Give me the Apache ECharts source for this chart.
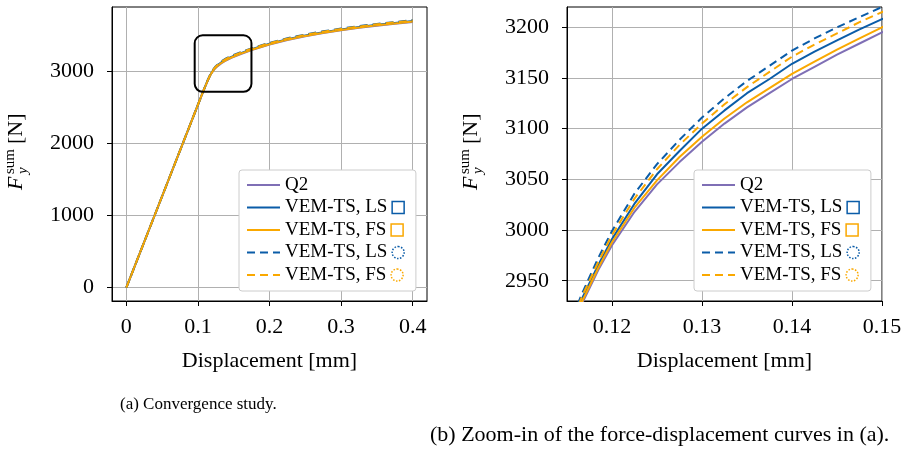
<!DOCTYPE html>
<html>
<head>
<meta charset="utf-8">
<script src="https://cdn.jsdelivr.net/npm/echarts@6/dist/echarts.min.js"></script>
<style>
  html, body { margin: 0; padding: 0; background: #fff; }
  #chart { width: 908px; height: 450px; }
</style>
</head>
<body>
<div id="chart"></div>
<script>
// displacement [mm], shared by every curve
var disp = [0, 0.05, 0.1, 0.105, 0.11, 0.1135, 0.1167, 0.1185, 0.12, 0.1225, 0.125, 0.1275, 0.13, 0.1325, 0.135, 0.1375, 0.14, 0.1425, 0.145, 0.1475, 0.15, 0.16, 0.175, 0.2, 0.225, 0.25, 0.275, 0.3, 0.325, 0.35, 0.375, 0.4]

// F_y^sum [N]
var q2 = [0, 1265, 2530, 2657, 2780, 2862, 2928, 2961, 2985, 3018, 3045, 3067, 3087, 3105, 3121, 3135, 3149, 3161, 3173, 3184, 3195, 3234, 3288, 3365, 3428, 3480, 3524, 3562, 3596, 3626, 3653, 3678]
var lsSquare = [0, 1265, 2530, 2657, 2781, 2865, 2933, 2966, 2991, 3026, 3055, 3078, 3100, 3118, 3135, 3149, 3164, 3176, 3187, 3198, 3208, 3247, 3301, 3377, 3440, 3492, 3536, 3574, 3608, 3638, 3665, 3690]
var fsSquare = [0, 1265, 2530, 2657, 2780, 2863, 2930, 2963, 2988, 3022, 3049, 3072, 3092, 3110, 3126, 3140, 3154, 3166, 3178, 3189, 3200, 3239, 3293, 3370, 3433, 3485, 3529, 3567, 3601, 3631, 3658, 3683]
var lsCircle = [0, 1265, 2530, 2657, 2783, 2868, 2938, 2973, 2999, 3036, 3065, 3089, 3111, 3130, 3147, 3162, 3177, 3189, 3200, 3210, 3220, 3259, 3313, 3389, 3452, 3504, 3548, 3586, 3620, 3650, 3677, 3702]
var fsCircle = [0, 1265, 2530, 2657, 2782, 2866, 2935, 2969, 2995, 3031, 3060, 3084, 3105, 3124, 3141, 3156, 3171, 3183, 3194, 3205, 3215, 3254, 3308, 3384, 3447, 3499, 3543, 3581, 3615, 3645, 3672, 3697]

var legendLabels = ['Q2', 'VEM-TS, LS', 'VEM-TS, FS', 'VEM-TS, LS', 'VEM-TS, FS']

// tick labels
var xTicksA = [0, 0.1, 0.2, 0.3, 0.4]
var yTicksA = [0, 1000, 2000, 3000]
var xTicksB = [0.12, 0.13, 0.14, 0.15]
var yTicksB = [2950, 3000, 3050, 3100, 3150, 3200]

// zoom window marked in (a): [x0, y0, x1, y1]
var zoomBox = [0.0955, 2711, 0.1748, 3494]

var captions = ['(a) Convergence study.', '(b) Zoom-in of the force-displacement curves in (a).']

var FONT = 'Liberation Serif'
var BLUE = '#0a5ca8'
var ORANGE = '#faa800'
var PURPLE = '#7f6fb5'

var keys = ['q2', 'ls', 'fs', 'lsd', 'fsd']
var curves = [q2, lsSquare, fsSquare, lsCircle, fsCircle]
var colors = [PURPLE, BLUE, ORANGE, BLUE, ORANGE]
var dashes = ['solid', 'solid', 'solid', [8, 5], [8, 5]]
var icons = ['', 'sqB', 'sqO', 'ciB', 'ciO']

function pairs (ys) {
  return disp.map(function (x, i) { return [x, ys[i]] })
}

var series = []
;[0, 1].forEach(function (g) {
  keys.forEach(function (k, i) {
    series.push({
      name: k,
      type: 'line',
      xAxisIndex: g,
      yAxisIndex: g,
      data: pairs(curves[i]),
      showSymbol: false,
      symbol: 'none',
      smooth: false,
      color: colors[i],
      lineStyle: { width: 2, color: colors[i], type: dashes[i] },
      animation: false
    })
  })
})

// rounded box in (a) showing the zoom-in region
series.push({
  type: 'custom',
  xAxisIndex: 0,
  yAxisIndex: 0,
  silent: true,
  z: 10,
  data: [zoomBox],
  renderItem: function (params, api) {
    var p0 = api.coord([api.value(0), api.value(3)])
    var p1 = api.coord([api.value(2), api.value(1)])
    return {
      type: 'rect',
      shape: { x: p0[0], y: p0[1], width: p1[0] - p0[0], height: p1[1] - p0[1], r: 8 },
      style: { fill: 'none', stroke: '#000', lineWidth: 2 }
    }
  }
})

function iconStyle (color, dotted) {
  return {
    width: 12,
    height: 12,
    borderColor: color,
    borderWidth: 1.5,
    borderType: dotted ? 'dotted' : 'solid',
    borderRadius: dotted ? 7 : 0
  }
}

function makeLegend (left) {
  return {
    left: left,
    top: 170,
    orient: 'vertical',
    data: keys,
    itemWidth: 33,
    itemHeight: 14,
    itemGap: 2.5,
    padding: [5, 11, 6, 7],
    backgroundColor: '#fff',
    borderColor: '#cccccc',
    borderWidth: 1,
    borderRadius: 3,
    selectedMode: false,
    itemStyle: { opacity: 0 },
    textStyle: {
      fontFamily: FONT,
      fontSize: 19,
      color: '#000',
      lineHeight: 20,
      rich: {
        t: { fontFamily: FONT, fontSize: 19, color: '#000', lineHeight: 20 },
        sqB: iconStyle(BLUE, false),
        sqO: iconStyle(ORANGE, false),
        ciB: iconStyle(BLUE, true),
        ciO: iconStyle(ORANGE, true)
      }
    },
    formatter: function (name) {
      var i = keys.indexOf(name)
      return '{t|' + legendLabels[i] + '}' + (icons[i] ? ' {' + icons[i] + '|}' : '')
    }
  }
}

function plain (v) { return String(v) }

function xAxis (g, min, max, ticks) {
  return {
    type: 'value',
    gridIndex: g,
    min: min,
    max: max,
    name: 'Displacement [mm]',
    nameLocation: 'middle',
    nameGap: 49,
    nameTextStyle: { fontFamily: FONT, fontSize: 22, color: '#000' },
    axisLine: { onZero: false, lineStyle: { color: '#000', width: 1 } },
    axisTick: { show: true, inside: false, length: 5, customValues: ticks, lineStyle: { color: '#000' } },
    axisLabel: { customValues: ticks, formatter: plain, margin: 15, fontFamily: FONT, fontSize: 22, color: '#000' },
    splitLine: { show: true, lineStyle: { color: '#b0b0b0', width: 1 } }
  }
}

function yAxis (g, min, max, ticks) {
  return {
    type: 'value',
    gridIndex: g,
    min: min,
    max: max,
    axisLine: { show: true, onZero: false, lineStyle: { color: '#000', width: 1 } },
    axisTick: { show: true, inside: false, length: 5, customValues: ticks, lineStyle: { color: '#000' } },
    axisLabel: { customValues: ticks, formatter: plain, margin: 18, fontFamily: FONT, fontSize: 22, color: '#000' },
    splitLine: { show: true, lineStyle: { color: '#b0b0b0', width: 1 } }
  }
}

// rotated y-axis title F_y^sum [N]
function yTitle (x, y) {
  return {
    type: 'group',
    x: x,
    y: y,
    rotation: Math.PI / 2,
    children: [
      { type: 'text', x: -38, y: -8, style: { text: 'F', font: 'italic 22px "' + FONT + '"', fill: '#000', verticalAlign: 'middle' } },
      { type: 'text', x: -22, y: -1, style: { text: 'y', font: 'italic 15px "' + FONT + '"', fill: '#000', verticalAlign: 'middle' } },
      { type: 'text', x: -22, y: -14, style: { text: 'sum', font: '15px "' + FONT + '"', fill: '#000', verticalAlign: 'middle' } },
      { type: 'text', x: 8, y: -8, style: { text: '[N]', font: '22px "' + FONT + '"', fill: '#000', verticalAlign: 'middle' } }
    ]
  }
}

var chart = echarts.init(document.getElementById('chart'), null, { renderer: 'canvas' })

chart.setOption({
  animation: false,
  backgroundColor: '#fff',
  grid: [
    { left: 112, top: 7, width: 315, height: 294, show: true, borderColor: '#000', borderWidth: 1, backgroundColor: 'transparent' },
    { left: 567, top: 7, width: 315, height: 294, show: true, borderColor: '#000', borderWidth: 1, backgroundColor: 'transparent' }
  ],
  xAxis: [
    xAxis(0, -0.02, 0.42, xTicksA),
    xAxis(1, 0.115, 0.15, xTicksB)
  ],
  yAxis: [
    yAxis(0, -185, 3885, yTicksA),
    yAxis(1, 2930, 3220, yTicksB)
  ],
  legend: [makeLegend(239), makeLegend(694)],
  series: series,
  graphic: [
    yTitle(24, 152),
    yTitle(479, 152),
    { type: 'text', x: 120, y: 405, style: { text: captions[0], font: '17px "' + FONT + '"', fill: '#000', verticalAlign: 'middle' } },
    { type: 'text', x: 430, y: 435, style: { text: captions[1], font: '22px "' + FONT + '"', fill: '#000', verticalAlign: 'middle' } }
  ]
})
</script>
</body>
</html>
